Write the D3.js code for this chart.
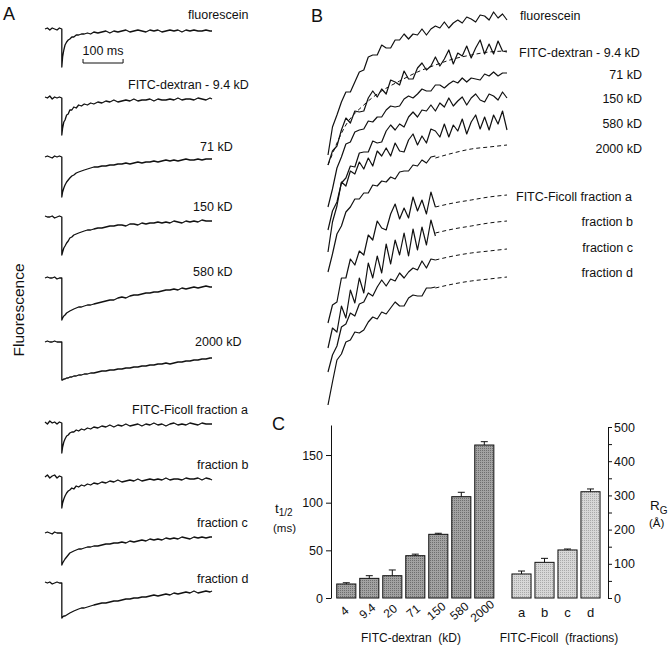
<!DOCTYPE html>
<html><head><meta charset="utf-8">
<script src="https://cdn.jsdelivr.net/npm/d3@7"></script>
<style>
body{margin:0;background:#fff;}
svg text{font-family:"Liberation Sans",Arial,Helvetica,sans-serif;fill:#111;}
</style></head><body>
<svg id="fig" width="669" height="647"></svg>
<script>
// ---------- Panel A: fluorescence traces (time in ms, fluorescence change in a.u.) ----------
const tA = [-42,-36,-30,-24,-18,-12,-6,0, 0, 2,5,8,12,16,20,25,30,36,42,49,56,64,72,80,
  90,100,110,120,130,140,150,160,170,180,190,200,210,220,230,240,250,260,270,280,290,300,310,320,330,340,350,360,370, 375];
const aFluorescein = [0,1,-1,1,0,-1,1,0, -38, -28,-21,-16,-13,-11,-10,-8,-8,-6,-6,-5,-5,-4,-5,-3,
  -4,-3,-2,-4,-2,-3,-2,-1,-3,-2,-1,-2,-3,-1,-2,-1,-3,-2,-1,-2,-1,-3,-1,-2,-1,-2,-2,-1,-2, -2];
const aDex94 = [1,0,2,-1,1,0,1,0, -37, -30,-24,-22,-17,-16,-12,-12,-9,-10,-7,-8,-6,-7,-5,-6,
  -4,-5,-3,-4,-2,-4,-3,-2,-3,-1,-3,-2,-2,-1,-3,-1,-2,-2,-1,-2,0,-2,-1,-1,-2,0,-1,-2,0, -1];
const aDex71 = [0,1,0,-1,1,0,1,0, -40, -35,-31,-28,-25,-23,-21,-19,-18,-16,-15,-14,-13,-12,-11,-10,
  -10,-9,-9,-8,-8,-7,-7,-6,-7,-6,-5,-6,-5,-5,-4,-5,-4,-3,-4,-3,-4,-3,-2,-3,-3,-2,-3,-2,-2, -2];
const aDex150 = [1,0,0,1,-1,0,1,0, -38, -35,-31,-29,-26,-24,-21,-20,-18,-17,-16,-15,-14,-13,-13,-12,
  -11,-11,-10,-9,-9,-8,-8,-9,-7,-7,-8,-6,-7,-6,-6,-5,-6,-5,-6,-4,-5,-6,-4,-5,-4,-5,-3,-4,-4, -4];
const aDex580 = [0,1,0,0,1,-1,0,0, -42, -40,-38,-37,-35,-34,-33,-32,-31,-30,-29,-29,-28,-27,-27,-26,
  -25,-24,-23,-22,-22,-20,-19,-20,-18,-17,-17,-16,-15,-15,-14,-14,-13,-12,-12,-11,-12,-10,-11,-10,-9,-10,-9,-8,-9, -9];
const aDex2000 = [0,1,0,0,1,0,0,0, -38, -38,-37,-37,-36,-36,-35,-35,-34,-34,-33,-33,-32,-32,-31,-31,
  -30,-29,-29,-28,-28,-27,-27,-26,-26,-25,-25,-24,-24,-23,-23,-22,-22,-21,-22,-21,-20,-20,-19,-19,-18,-18,-17,-17,-16, -16];
const aFicA = [1,-1,2,0,1,-1,1,0, -30, -24,-19,-16,-13,-12,-10,-9,-9,-7,-8,-6,-7,-5,-6,-4,
  -5,-3,-4,-2,-4,-2,-3,-1,-3,-2,-1,-3,-1,-2,0,-2,-1,-3,-1,0,-2,-1,-2,0,-1,-2,0,-1,-1, -1];
const aFicB = [0,2,-1,1,2,-1,1,0, -31, -26,-22,-19,-16,-14,-13,-11,-12,-9,-10,-8,-9,-7,-8,-6,
  -7,-5,-6,-4,-5,-3,-5,-4,-3,-4,-2,-4,-3,-2,-3,-2,-3,-1,-3,-2,-2,-3,-1,-2,-2,-1,-3,-1,-2, -3];
const aFicC = [0,1,0,-1,1,0,0,0, -32, -30,-28,-26,-24,-22,-20,-19,-18,-17,-16,-16,-15,-14,-14,-13,
  -13,-12,-11,-11,-10,-10,-9,-10,-8,-9,-8,-7,-8,-6,-7,-6,-7,-5,-6,-5,-6,-4,-5,-6,-4,-5,-4,-5,-4, -4];
const aFicD = [1,0,1,-1,0,1,0,0, -35, -34,-33,-33,-32,-31,-30,-29,-28,-27,-26,-25,-25,-24,-23,-22,
  -21,-20,-20,-19,-18,-18,-17,-16,-16,-15,-15,-14,-14,-13,-12,-13,-12,-11,-12,-10,-11,-10,-9,-10,-8,-10,-9,-8,-9, -8];
const namesA = ["fluorescein","FITC-dextran - 9.4 kD","71 kD","150 kD","580 kD","2000 kD",
  "FITC-Ficoll fraction a","fraction b","fraction c","fraction d"];

// ---------- Panel B: early recovery (time a.u., rise a.u.) ----------
const tB = d3.range(0, 100.01, 2.5);
const tBf = d3.range(0, 60.01, 2.5);
const bFluorescein = [0,28,40,53,63,63,73,83,85,98,100,100,110,107,107,115,115,121,116,121,120,126,120,126,129,127,133,127,132,135,132,138,136,133,140,139,135,143,137,141,135];
const bDex94 = [0,14,19,35,47,42,54,53,54,67,74,68,76,71,85,83,80,94,86,86,97,102,95,99,108,99,106,115,101,112,109,119,107,117,125,111,121,111,124,114,113];
const bDex71 = [0,18,39,50,63,65,75,77,78,86,85,90,90,97,101,100,101,108,111,109,113,118,116,116,122,122,119,123,126,124,129,125,129,128,127,133,131,135,131,134,134];
const bDex150 = [0,19,28,47,52,64,63,77,78,78,89,87,88,99,105,100,106,103,113,118,113,120,119,125,119,127,123,132,124,129,133,125,132,136,130,128,136,134,130,138,132];
const bDex580 = [0,30,46,70,66,81,78,90,83,94,86,101,96,104,96,109,101,100,112,118,107,116,109,123,121,115,128,115,127,121,133,118,130,137,123,135,122,137,128,141,122];
const bDex2000 = [0,18,38,46,60,65,73,73,79,79,87,86,91,90,95,93,100,101,101,107,106,112,109,115,116];
const bFicA = [0,18,21,45,45,64,58,72,68,88,83,102,95,93,109,119,104,115,105,126,112,123,109,131,116];
const bFicB = [0,20,16,42,30,58,45,70,55,85,70,92,75,104,84,108,93,115,92,119,98,121,103,128,112];
const bFicC = [0,17,26,45,48,59,56,68,70,79,76,85,92,86,93,91,99,94,100,104,102,111,104,113,112];
const bFicD = [0,23,45,51,63,65,73,72,75,83,88,86,93,91,97,103,99,99,107,110,109,109,117,117,118];
const tFit = [0,10,20,30,40,50,60,70,80,90,100];
const fitDex94 = [0,40,60,74,84,93,100,106,110,113,114];
const fitDex2000 = [0,58,78,89,98,107,114,119,123,125,127];
const fitFicA = [0,48,76,97,110,114,116,120,123,126,128];
const fitFicB = [0,42,68,87,100,109,115,119,122,125,127];
const fitFicC = [0,50,71,87,95,104,112,116,119,121,123];
const fitFicD = [0,61,78,91,101,110,117,121,124,126,128];
const namesB = namesA;

// ---------- Panel C: bar chart ----------
const dexCats = ["4","9.4","20","71","150","580","2000"];
const dexMeans = [14.7,20.6,23.4,44.4,66.8,106.3,160.5];
const dexErr = [1.3,2.8,6.0,1.6,1.1,4.6,3.5];
const ficCats = ["a","b","c","d"];
const ficMeans = [25.2,37.4,50.4,111.5];
const ficErr = [3.1,4.2,1.0,2.9];
const tHalfTicks = [0,50,100,150];
const rgTicks = [0,50,100,150,200,250,300,350,400,450,500];

// =================================================================
const svg = d3.select("#fig");
const defs = svg.append("defs");
function stipple(id, base, dot){
  const p = defs.append("pattern").attr("id", id).attr("width",2).attr("height",2).attr("patternUnits","userSpaceOnUse");
  p.append("rect").attr("width",2).attr("height",2).attr("fill",base);
  p.append("rect").attr("width",1).attr("height",1).attr("fill",dot);
}
stipple("dexPat","#a2a2a2","#6e6e6e");
stipple("ficPat","#d7d7d7","#a9a9a9");

// panel letters
svg.append("text").attr("x",3).attr("y",20).attr("font-size",18).text("A");
svg.append("text").attr("x",311).attr("y",22).attr("font-size",18).text("B");
svg.append("text").attr("x",272).attr("y",430).attr("font-size",18).text("C");

// ----- Panel A -----
const xA = d3.scaleLinear().domain([-42,375]).range([45,212]);
const yA = d3.scaleLinear().domain([-40,0]).range([40,0]);
const tracesA = [aFluorescein,aDex94,aDex71,aDex150,aDex580,aDex2000,aFicA,aFicB,aFicC,aFicD];
const baseA = [29,98,157,217,278,342,423,477,533,583];
const labXA = [188,128,200,193,193,195,132,197,197,197];
const labYA = [19,89,151,211,276,346,414,469,527,583];
const gA = svg.append("g");
tracesA.forEach((vals,i)=>{
  const line = d3.line().x((v,j)=>xA(tA[j])).y(v=>baseA[i]+yA(v));
  gA.append("path").attr("d", line(vals)).attr("fill","none").attr("stroke","#111")
    .attr("stroke-width",1.3).attr("stroke-linejoin","round");
  gA.append("text").attr("x",labXA[i]).attr("y",labYA[i]).attr("font-size",12.5).text(namesA[i]);
});
// 100 ms scale bar
gA.append("path").attr("d", `M${xA(0)+21.2},59V63H${xA(100)+21.2}V59`).attr("fill","none").attr("stroke","#111").attr("stroke-width",1);
gA.append("text").attr("x",(xA(0)+xA(100))/2+21.2).attr("y",55).attr("text-anchor","middle").attr("font-size",12.5).text("100 ms");
gA.append("text").attr("transform","translate(24,310) rotate(-90)").attr("text-anchor","middle")
  .attr("font-size",15.5).text("Fluorescence");

// ----- Panel B -----
const xB = d3.scaleLinear().domain([0,100]).range([328,507]);
const yB = d3.scaleLinear().domain([0,150]).range([0,-150]);
const baseB = [155,165,207,230,252,272,323,348,372,405];
const tracesB = [bFluorescein,bDex94,bDex71,bDex150,bDex580,bDex2000,bFicA,bFicB,bFicC,bFicD];
const fitsB = [null,fitDex94,null,null,null,fitDex2000,fitFicA,fitFicB,fitFicC,fitFicD];
const gB = svg.append("g");
fitsB.forEach((f,i)=>{
  if(!f) return;
  const pts = tFit.map((t,j)=>[t,f[j]]).filter(p => i===1 || p[0]>=60);
  const line = d3.line().curve(d3.curveMonotoneX).x(p=>xB(p[0])).y(p=>baseB[i]+yB(p[1]));
  gB.append("path").attr("d", line(pts)).attr("fill","none").attr("stroke","#111")
    .attr("stroke-width",1).attr("stroke-dasharray","4,3");
});
tracesB.forEach((vals,i)=>{
  const tt = vals.length === tB.length ? tB : tBf;
  const line = d3.line().x((v,j)=>xB(tt[j])).y(v=>baseB[i]+yB(v));
  gB.append("path").attr("d", line(vals)).attr("fill","none").attr("stroke","#111")
    .attr("stroke-width",1.2).attr("stroke-linejoin","round");
});
const labB = [
  {x:520,y:20,a:"start"},{x:519,y:57,a:"start"},{x:642,y:79,a:"end"},{x:642,y:103,a:"end"},
  {x:642,y:128,a:"end"},{x:642,y:153,a:"end"},{x:516,y:201,a:"start"},{x:633,y:226,a:"end"},
  {x:633,y:252,a:"end"},{x:633,y:277,a:"end"}];
namesB.forEach((n,i)=>{
  gB.append("text").attr("x",labB[i].x).attr("y",labB[i].y).attr("text-anchor",labB[i].a)
    .attr("font-size",12.5).text(n);
});

// ----- Panel C -----
const gC = svg.append("g");
const yC = d3.scaleLinear().domain([0,181.5]).range([598,425]);
const yR = d3.scaleLinear().domain([0,500]).range([598,427]);
const xDex = d3.scaleBand().domain(dexCats).range([334.8,495.8]).paddingInner(0.17).paddingOuter(0.085);
const xFic = d3.scaleBand().domain(ficCats).range([510,602]).paddingInner(0.17).paddingOuter(0.085);

function bars(cats, means, errs, xs, pat){
  cats.forEach((c,i)=>{
    const x = xs(c), w = xs.bandwidth(), cx = x + w/2;
    gC.append("rect").attr("x",x).attr("y",yC(means[i])).attr("width",w)
      .attr("height",yC(0)-yC(means[i])).attr("fill",`url(#${pat})`).attr("stroke","#111").attr("stroke-width",1);
    const yt = yC(means[i]+errs[i]);
    gC.append("path").attr("d",`M${cx},${yC(means[i])}V${yt}M${cx-3.5},${yt}H${cx+3.5}`)
      .attr("stroke","#111").attr("stroke-width",1).attr("fill","none");
  });
}
bars(dexCats, dexMeans, dexErr, xDex, "dexPat");
bars(ficCats, ficMeans, ficErr, xFic, "ficPat");

const axL = gC.append("g").attr("transform","translate(331,0)")
  .call(d3.axisLeft(yC).tickValues(tHalfTicks).tickSize(5).tickSizeOuter(0).tickPadding(3));
const axR = gC.append("g").attr("transform","translate(608,0)")
  .call(d3.axisRight(yR).tickValues(rgTicks).tickSize(4).tickSizeOuter(0).tickPadding(2)
    .tickFormat(d => d % 100 === 0 ? d : ""));
[axL, axR].forEach(a=>{
  a.selectAll("path,line").attr("stroke","#111");
  a.selectAll("text").attr("font-size",12.5).attr("fill","#111")
    .style("font-family",'"Liberation Sans",Arial,sans-serif');
});

dexCats.forEach(c=>{
  const cx = xDex(c) + xDex.bandwidth()/2 - 2;
  gC.append("text").attr("x",cx).attr("y",611).attr("dy","0.35em").attr("text-anchor","middle")
    .attr("transform",`rotate(-40,${cx},611)`).attr("font-size",12).text(c);
});
ficCats.forEach(c=>{
  const cx = xFic(c) + xFic.bandwidth()/2;
  gC.append("text").attr("x",cx).attr("y",617).attr("text-anchor","middle").attr("font-size",13).text(c);
});
gC.append("text").attr("x",411).attr("y",642).attr("text-anchor","middle").attr("font-size",12)
  .style("white-space","pre").text("FITC-dextran  (kD)");
gC.append("text").attr("x",559).attr("y",642).attr("text-anchor","middle").attr("font-size",12)
  .style("white-space","pre").text("FITC-Ficoll  (fractions)");

const tl = gC.append("text").attr("x",275).attr("y",513).attr("font-size",13.5);
tl.append("tspan").text("t");
tl.append("tspan").attr("font-size",10).attr("dy",3).text("1/2");
gC.append("text").attr("x",273).attr("y",532).attr("font-size",11.5).text("(ms)");
const rl = gC.append("text").attr("x",650).attr("y",510).attr("font-size",13.5);
rl.append("tspan").text("R");
rl.append("tspan").attr("font-size",10).attr("dy",4).text("G");
gC.append("text").attr("x",649).attr("y",527).attr("font-size",11.5).text("(Å)");
</script></body></html>
